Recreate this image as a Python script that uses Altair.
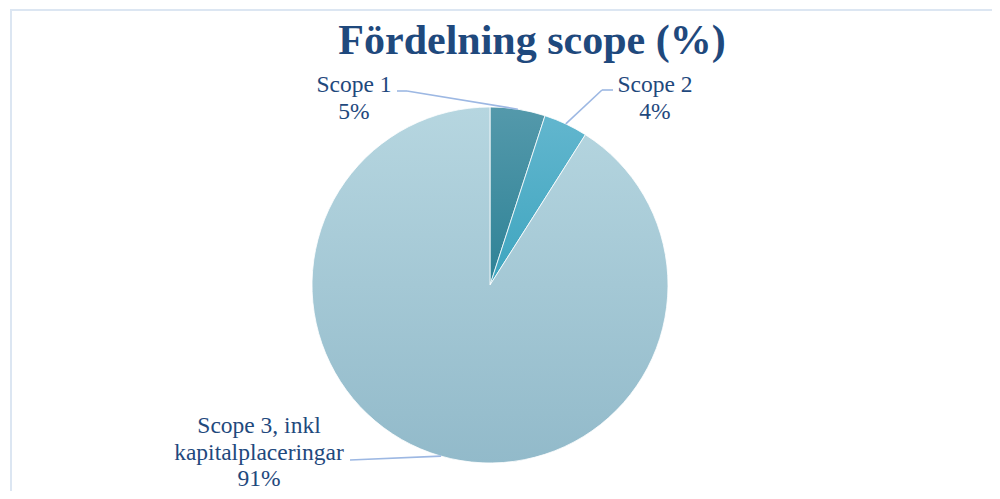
import math
import altair as alt
import pandas as pd

# ---- data ----
categories = ["Scope 1", "Scope 2", "Scope 3, inkl kapitalplaceringar"]
values = [5, 4, 91]
label_lines = [["Scope 1", "5%"], ["Scope 2", "4%"], ["Scope 3, inkl", "kapitalplaceringar", "91%"]]
title_text = "Fördelning scope (%)"

# ---- derived table ----
starts, ends = [], []
acc = 0
for v in values:
    starts.append(acc)
    acc += v
    ends.append(acc)
df = pd.DataFrame({"cat": categories, "value": values, "start": starts, "end": ends})

# ---- layout (chart coords = page coords - 8) ----
OFF = 8
CX, CY, R = 490 - OFF, 285 - OFF, 178
TEXT_COLOR = "#1F497D"
LINE_COLOR = "#9DB8E3"
FONT = "Liberation Serif"

fills = [
    ("#5499AB", "#2E8296"),
    ("#62B6CE", "#3EA5BF"),
    ("#B6D6E0", "#92BACA"),
]

theta_scale = alt.Scale(domain=[0, 100], range=[0, 2 * math.pi])

layers = []

# border
layers.append(
    alt.Chart(alt.Data(values=[{}])).mark_rect(fill=None, stroke="#DCE6F2", strokeWidth=2).encode(
        x=alt.value(11 - OFF), x2=alt.value(994 - OFF), y=alt.value(10 - OFF), y2=alt.value(520)
    )
)

for cat, (c0, c1) in zip(categories, fills):
    grad = alt.LinearGradient(
        gradient="linear",
        stops=[alt.GradientStop(color=c0, offset=0), alt.GradientStop(color=c1, offset=1)],
        x1=0, x2=0, y1=0, y2=1,
    )
    layers.append(
        alt.Chart(df).transform_filter(alt.datum.cat == cat).mark_arc(
            radius=R, fill=grad, stroke="white", strokeWidth=0.8
        ).encode(
            theta=alt.Theta("start:Q", stack=None, scale=theta_scale),
            theta2="end:Q",
            x=alt.value(CX),
            y=alt.value(CY),
        )
    )

def rule(p0, p1):
    return alt.Chart(alt.Data(values=[{}])).mark_rule(color=LINE_COLOR, strokeWidth=1.6).encode(
        x=alt.value(p0[0] - OFF), y=alt.value(p0[1] - OFF),
        x2=alt.value(p1[0] - OFF), y2=alt.value(p1[1] - OFF),
    )

def on_pie(angle_deg):
    a = math.radians(angle_deg)
    return (CX + OFF + R * math.sin(a), CY + OFF - R * math.cos(a))

mid1 = (starts[0] + ends[0]) / 2 * 3.6
mid2 = (starts[1] + ends[1]) / 2 * 3.6
layers += [
    rule((397, 91), (407, 91)), rule((407, 91), on_pie(mid1)),
    rule((613, 90), (602, 90)), rule((602, 90), on_pie(mid2)),
    rule((350, 460), on_pie(196)),
]

# labels
label_pos = [(354, 92), (655, 92), (259, 433)]
for lines, (lx, ly) in zip(label_lines, label_pos):
    layers.append(
        alt.Chart(alt.Data(values=[{}])).mark_text(
            text=lines, font=FONT, fontSize=23.5, color=TEXT_COLOR, align="center",
            baseline="alphabetic", lineHeight=26.5,
        ).encode(x=alt.value(lx - OFF), y=alt.value(ly - OFF))
    )

# title
layers.append(
    alt.Chart(alt.Data(values=[{}])).mark_text(
        text=title_text, font=FONT, fontSize=42, fontWeight="bold", color=TEXT_COLOR,
        align="center", baseline="alphabetic",
    ).encode(x=alt.value(532 - OFF), y=alt.value(54 - OFF))
)

chart = alt.layer(*layers).properties(
    width=984, height=483, autosize="none", padding=0
).configure_view(stroke=None)

chart.save("out.html", embed_options={"renderer": "svg", "actions": False})
